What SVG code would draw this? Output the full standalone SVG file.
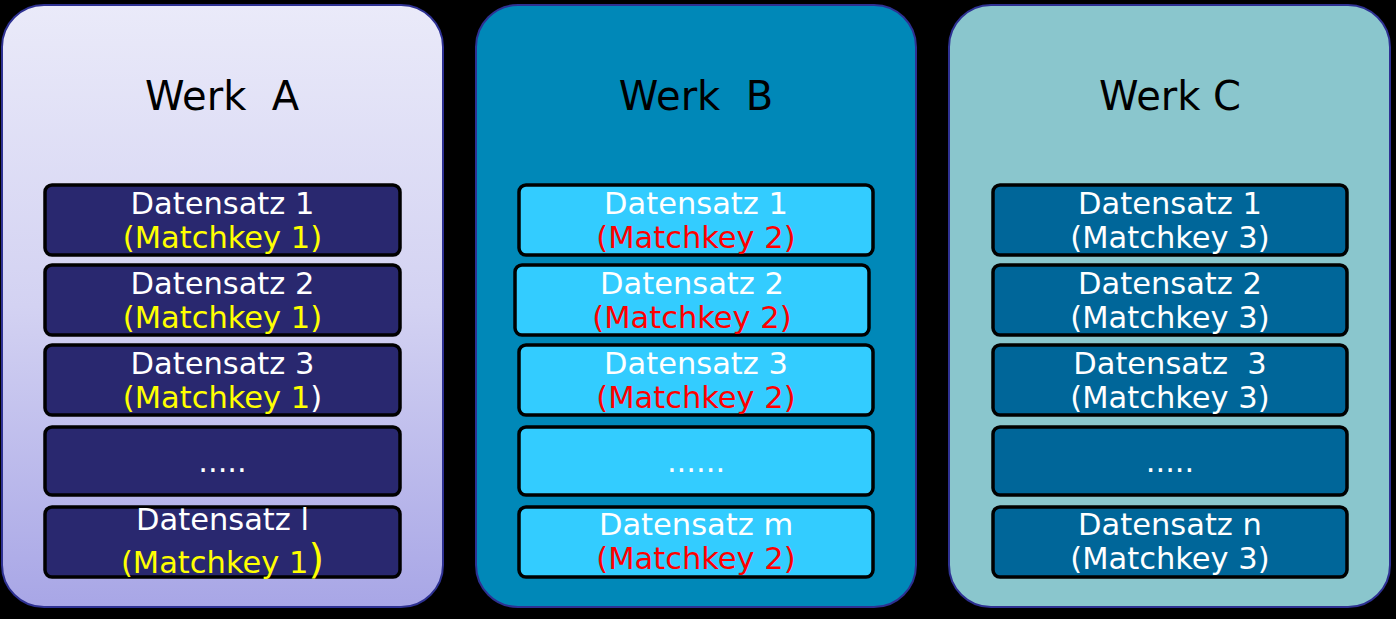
<svg xmlns="http://www.w3.org/2000/svg" width="1396" height="619" viewBox="0 0 1396 619">
<defs>
<linearGradient id="gA" x1="0" y1="0" x2="0" y2="1">
<stop offset="0" stop-color="#eaeaf9"/>
<stop offset="0.5" stop-color="#d3d2f2"/>
<stop offset="1" stop-color="#a8a6e6"/>
</linearGradient>
<style>
.panel{stroke:#2e3192;stroke-width:2}
.box{stroke:#000;stroke-width:3.5}
.bA{fill:#29286f}
.bB{fill:#33ccff}
.bC{fill:#006699}
text{font-family:"DejaVu Sans","Verdana",sans-serif;text-anchor:middle;white-space:pre}
.title{font-size:40px;fill:#000}
.t{font-size:30.5px;fill:#fff}
.y{fill:#ffff00}
.r{fill:#ff0000}
</style>
</defs>
<rect width="1396" height="619" fill="#000"/>

<g id="werkA">
<rect class="panel" x="2" y="5" width="441" height="602" rx="42" fill="url(#gA)"/>
<text class="title" x="222" y="110">Werk  A</text>
</g>
<g id="werkB">
<rect class="panel" x="476" y="5" width="440" height="602" rx="42" fill="#0088b8"/>
<text class="title" x="696" y="110">Werk  B</text>
</g>
<g id="werkC">
<rect class="panel" x="949" y="5" width="441" height="602" rx="42" fill="#8ac6cd"/>
<text class="title" x="1170" y="110">Werk C</text>
</g>

<g id="A1"><rect class="box bA" x="45" y="185" width="355" height="70" rx="7"/>
<text class="t" x="222.5" y="214">Datensatz 1</text><text class="t y" x="222.5" y="248">(Matchkey 1)</text></g>
<g id="A2"><rect class="box bA" x="45" y="265" width="355" height="70" rx="7"/>
<text class="t" x="222.5" y="294">Datensatz 2</text><text class="t y" x="222.5" y="328">(Matchkey 1)</text></g>
<g id="A3"><rect class="box bA" x="45" y="345" width="355" height="70" rx="7"/>
<text class="t" x="222.5" y="374">Datensatz 3</text><text class="t" x="222.5" y="408"><tspan class="y">(Matchkey 1</tspan>)</text></g>
<g id="A4"><rect class="box bA" x="45" y="427" width="355" height="68" rx="7"/>
<text class="t" x="222.5" y="472">.....</text></g>
<g id="A5"><rect class="box bA" x="45" y="507" width="355" height="70" rx="7"/>
<text class="t" x="222.5" y="530">Datensatz l</text><text class="t y" x="222.5" y="573">(Matchkey 1<tspan font-size="40">)</tspan></text></g>

<g id="B1"><rect class="box bB" x="519" y="185" width="354" height="70" rx="7"/>
<text class="t" x="696" y="214">Datensatz 1</text><text class="t r" x="696" y="248">(Matchkey 2)</text></g>
<g id="B2"><rect class="box bB" x="515" y="265" width="354" height="70" rx="7"/>
<text class="t" x="692" y="294">Datensatz 2</text><text class="t r" x="692" y="328">(Matchkey 2)</text></g>
<g id="B3"><rect class="box bB" x="519" y="345" width="354" height="70" rx="7"/>
<text class="t" x="696" y="374">Datensatz 3</text><text class="t r" x="696" y="408">(Matchkey 2)</text></g>
<g id="B4"><rect class="box bB" x="519" y="427" width="354" height="68" rx="7"/>
<text class="t" x="696" y="472">......</text></g>
<g id="B5"><rect class="box bB" x="519" y="507" width="354" height="70" rx="7"/>
<text class="t" x="696" y="535">Datensatz m</text><text class="t r" x="696" y="569">(Matchkey 2)</text></g>

<g id="C1"><rect class="box bC" x="993" y="185" width="354" height="70" rx="7"/>
<text class="t" x="1170" y="214">Datensatz 1</text><text class="t" x="1170" y="248">(Matchkey 3)</text></g>
<g id="C2"><rect class="box bC" x="993" y="265" width="354" height="70" rx="7"/>
<text class="t" x="1170" y="294">Datensatz 2</text><text class="t" x="1170" y="328">(Matchkey 3)</text></g>
<g id="C3"><rect class="box bC" x="993" y="345" width="354" height="70" rx="7"/>
<text class="t" x="1170" y="374">Datensatz  3</text><text class="t" x="1170" y="408">(Matchkey 3)</text></g>
<g id="C4"><rect class="box bC" x="993" y="427" width="354" height="68" rx="7"/>
<text class="t" x="1170" y="472">.....</text></g>
<g id="C5"><rect class="box bC" x="993" y="507" width="354" height="70" rx="7"/>
<text class="t" x="1170" y="535">Datensatz n</text><text class="t" x="1170" y="569">(Matchkey 3)</text></g>

<g id="connectors"/>
</svg>
